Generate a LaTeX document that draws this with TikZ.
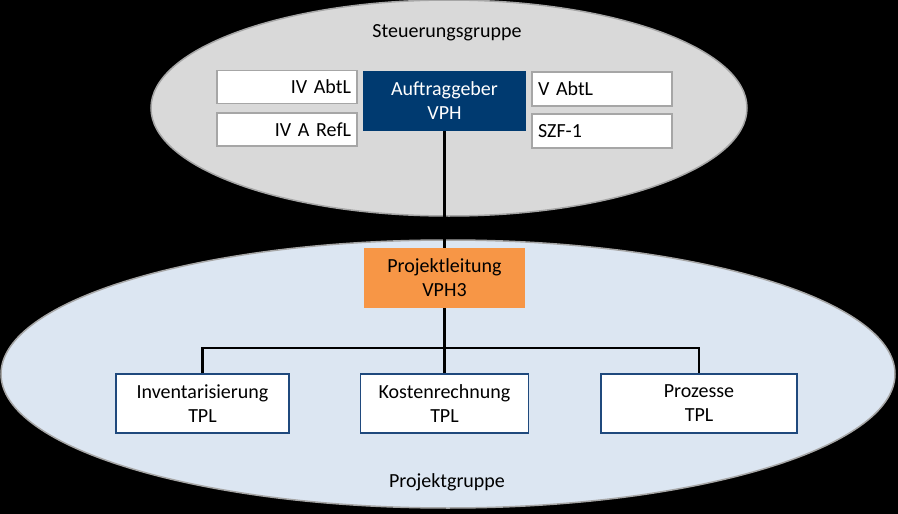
\documentclass[tikz,border=0pt]{standalone}
\usepackage{fontspec}
\setmainfont{Carlito}
\definecolor{topfill}{HTML}{D9D9D9}
\definecolor{botfill}{HTML}{DCE6F2}
\definecolor{rimgray}{HTML}{A6A6A6}
\definecolor{navy}{HTML}{003A70}
\definecolor{orng}{HTML}{F79646}
\definecolor{boxblue}{HTML}{1F497D}
\begin{document}
\begin{tikzpicture}[x=1pt,y=-1pt,
  every node/.style={font=\fontsize{20}{24}\selectfont},
  group/.style={draw=rimgray, line width=1.5pt},
  member/.style={draw=rimgray, line width=1.5pt, fill=white, minimum height=33pt, inner xsep=6pt, inner ysep=0pt, text width=128pt},
  head/.style={minimum height=60pt, align=center, inner sep=0pt},
  teambox/.style={draw=boxblue, line width=1.3pt, fill=white, minimum height=59pt, align=center, inner sep=0pt},
  link/.style={line width=2.5pt, black}]
\fill[black] (0,0) rectangle (898,514);
\useasboundingbox (0,0) rectangle (898,514);
\draw[group, fill=topfill] (449,108) ellipse [x radius=298, y radius=108];
\draw[group, fill=botfill] (448,374) ellipse [x radius=447, y radius=134];
\node (sg) at (447,33) {Steuerungsgruppe};
\node (pg) at (447,482) {Projektgruppe};
\node[member, align=right] (iva) at (287,87) {IV AbtL};
\node[member, align=right] (ivr) at (287,129.5) {IV A RefL};
\node[member, align=left, minimum height=34pt] (va) at (602,89) {V AbtL};
\node[member, align=left, minimum height=34pt] (szf) at (602,131) {SZF-1};
\node[head, fill=navy, text=white, minimum width=163pt] (auf) at (444.5,101) {Auftraggeber\\VPH};
\node[head, fill=orng, text=black, minimum width=161pt] (pl) at (444.5,278) {Projektleitung\\VPH3};
\node[teambox, minimum width=173pt] (inv) at (202.5,403.5) {Inventarisierung\\TPL};
\node[teambox, minimum width=168pt] (kos) at (444.5,403.5) {Kostenrechnung\\TPL};
\node[teambox, minimum width=196pt] (pro) at (699,403.5) {Prozesse\\TPL};
\coordinate (j) at (444.5,348);
\draw[link] (auf.south) -- (pl.north);
\draw[link] (pl.south) -- (j) -- (kos.north);
\draw[link] (inv.north) -- (inv.north |- j) -- (pro.north |- j) -- (pro.north);
\end{tikzpicture}
\end{document}
